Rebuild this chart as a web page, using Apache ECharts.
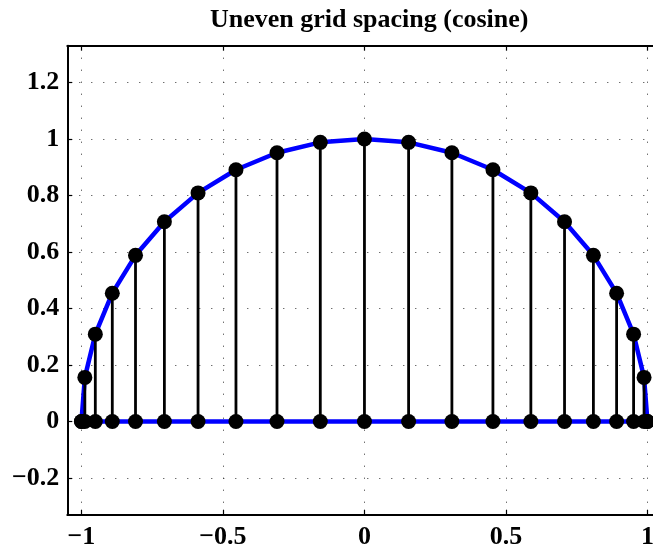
<!DOCTYPE html>
<html>
<head>
<meta charset="utf-8">
<script src="https://cdn.jsdelivr.net/npm/echarts@6/dist/echarts.min.js"></script>
<style>
html,body{margin:0;padding:0;background:#fff;}
#chart{width:653px;height:552px;}
</style>
</head>
<body>
<div id="chart"></div>
<script>
// Sample locations (cosine-spaced) and heights
const xs = [-1, -0.988, -0.951, -0.891, -0.809, -0.707, -0.588, -0.454, -0.309, -0.156, 0,
            0.156, 0.309, 0.454, 0.588, 0.707, 0.809, 0.891, 0.951, 0.988, 1];
const ys = [0, 0.156, 0.309, 0.454, 0.588, 0.707, 0.809, 0.891, 0.951, 0.988, 1,
            0.988, 0.951, 0.891, 0.809, 0.707, 0.588, 0.454, 0.309, 0.156, 0];
const xTicks = [-1, -0.5, 0, 0.5, 1];
const yTicks = [-0.2, 0, 0.2, 0.4, 0.6, 0.8, 1, 1.2];
const titleText = 'Uneven grid spacing (cosine)';

const FONT = '"Liberation Serif", "Times New Roman", serif';
const curve = xs.map((x, i) => [x, ys[i]]);
const base = xs.map(x => [x, 0]);
const fmt = v => {
  const r = Math.round(v * 10) / 10;
  return String(r).replace('-', '\u2212');
};

const axisLineStyle = { show: true, onZero: false, lineStyle: { color: '#000', width: 2 } };
const tickStyle = { lineStyle: { color: '#000', width: 1.2 } };
const gridLine = { show: true, lineStyle: { color: '#333', width: 1, type: [1, 11] } };

const chart = echarts.init(document.getElementById('chart'), null, { renderer: 'canvas' });
chart.setOption({
  animation: false,
  backgroundColor: '#fff',
  title: {
    text: titleText,
    left: 205, top: 2,
    textStyle: { fontFamily: FONT, fontWeight: 'bold', fontSize: 26, color: '#000' }
  },
  grid: { left: 67.3, top: 45.7, width: 594.3, height: 469, containLabel: false, outerBoundsMode: 'none' },
  xAxis: [{
    type: 'value', min: -1.05, max: 1.05, position: 'bottom',
    axisLine: axisLineStyle,
    axisTick: Object.assign({ show: true, inside: true, length: 5, customValues: xTicks }, tickStyle),
    axisLabel: { show: true, customValues: xTicks, formatter: fmt, margin: 10,
      fontFamily: FONT, fontWeight: 'bold', fontSize: 26, color: '#000' },
    splitLine: gridLine
  }, {
    type: 'value', min: -1.05, max: 1.05, position: 'top',
    axisLine: axisLineStyle,
    axisTick: Object.assign({ show: true, inside: true, length: 5, customValues: xTicks }, tickStyle),
    axisLabel: { show: false },
    splitLine: { show: false }
  }],
  yAxis: [{
    type: 'value', min: -0.33, max: 1.33, position: 'left',
    axisLine: axisLineStyle,
    axisTick: Object.assign({ show: true, inside: true, length: 5, customValues: yTicks }, tickStyle),
    axisLabel: { show: true, customValues: yTicks, formatter: fmt, margin: 8,
      fontFamily: FONT, fontWeight: 'bold', fontSize: 26, color: '#000' },
    splitLine: gridLine
  }, {
    type: 'value', min: -0.33, max: 1.33, position: 'right',
    axisLine: axisLineStyle,
    axisTick: Object.assign({ show: true, inside: true, length: 5, customValues: yTicks }, tickStyle),
    axisLabel: { show: false },
    splitLine: { show: false }
  }],
  series: [
    {
      type: 'line', data: curve, symbol: 'none', z: 2,
      lineStyle: { color: '#0000ff', width: 4.5 }
    },
    {
      type: 'line', data: base, symbol: 'none', z: 2,
      lineStyle: { color: '#0000ff', width: 4.5 }
    },
    {
      type: 'custom', data: curve, z: 3,
      encode: { x: 0, y: 1 },
      renderItem: (params, api) => {
        const x = api.value(0), y = api.value(1);
        const p0 = api.coord([x, 0]);
        const p1 = api.coord([x, y]);
        return { type: 'line', shape: { x1: p0[0], y1: p0[1], x2: p1[0], y2: p1[1] },
          style: { stroke: '#000', lineWidth: 2.8 } };
      }
    },
    {
      type: 'scatter', data: curve, symbol: 'circle', symbolSize: 15, z: 4,
      itemStyle: { color: '#000', opacity: 1 }
    },
    {
      type: 'scatter', data: base, symbol: 'circle', symbolSize: 15, z: 4,
      itemStyle: { color: '#000', opacity: 1 }
    }
  ]
});
</script>
</body>
</html>
